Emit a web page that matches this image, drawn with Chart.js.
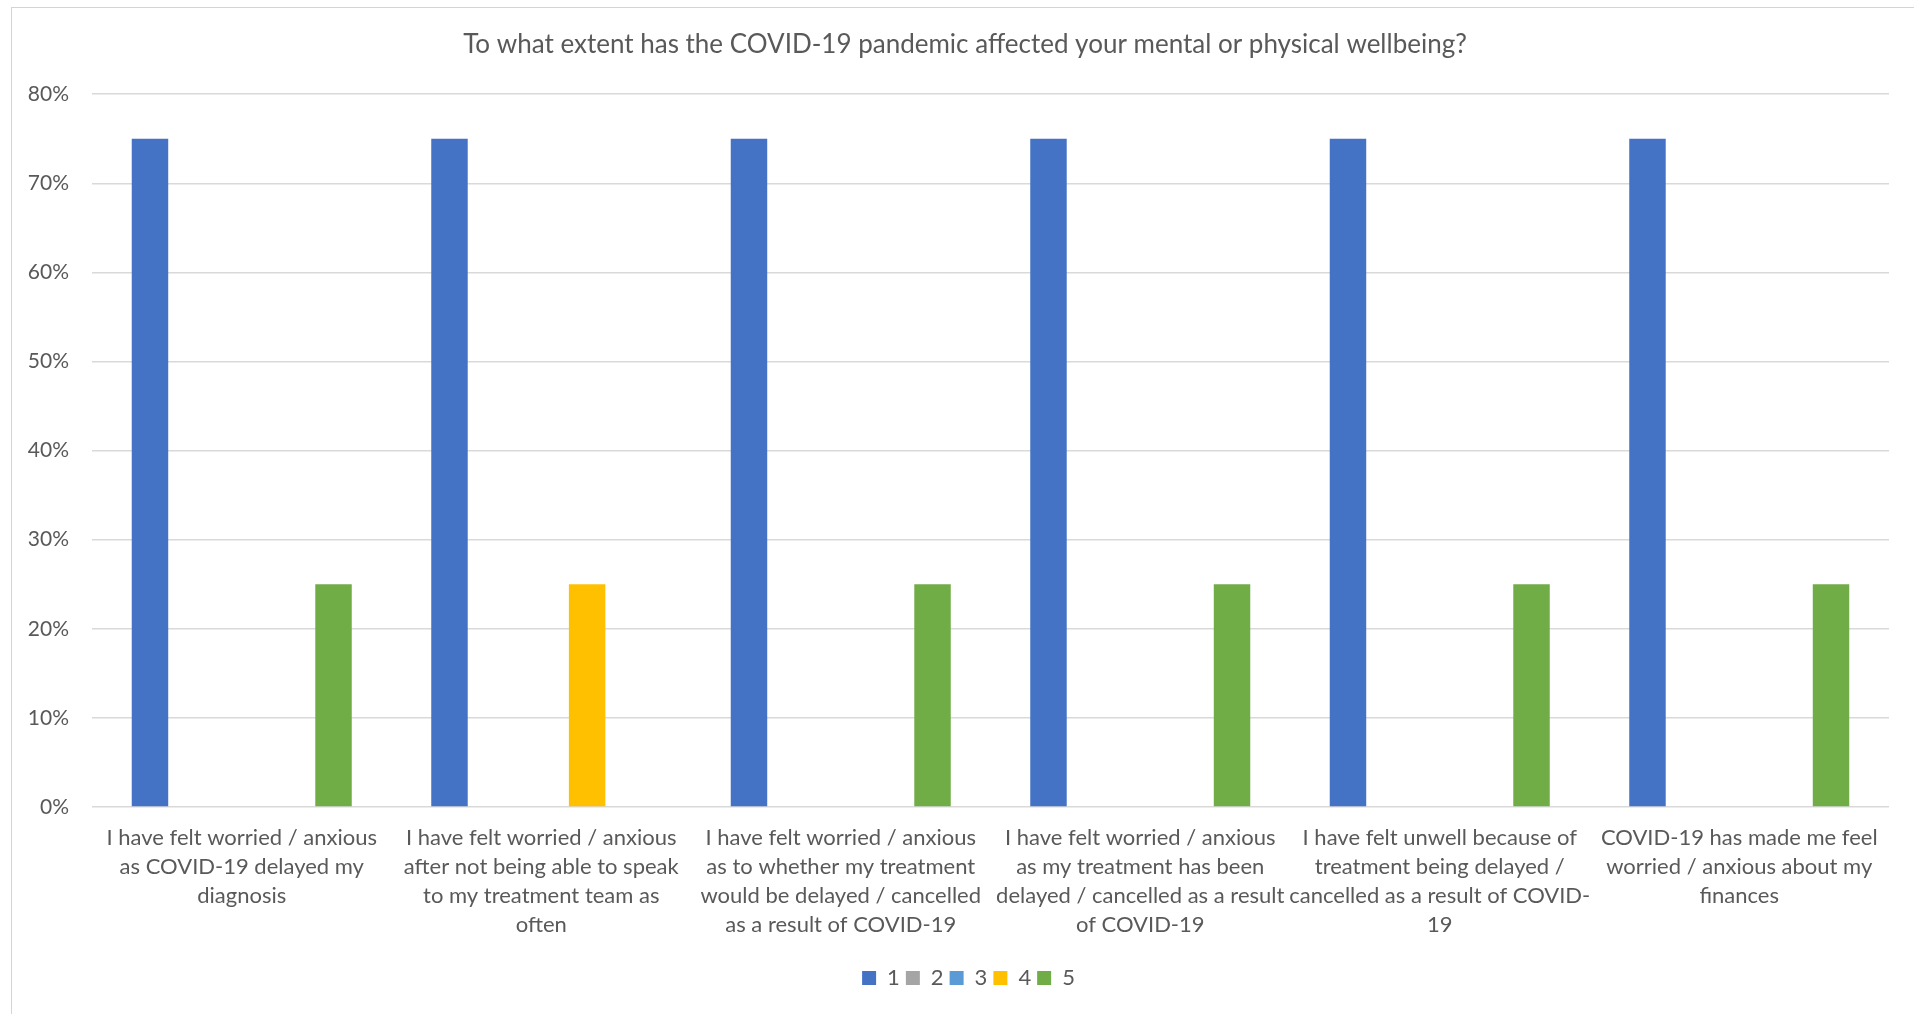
<!DOCTYPE html>
<html>
<head>
<meta charset="utf-8">
<title>COVID-19 wellbeing survey</title>
<script src="https://cdn.jsdelivr.net/npm/chart.js@4.4.1/dist/chart.umd.min.js"></script>
<style>
  html, body { margin: 0; padding: 0; background: #ffffff; overflow: hidden; }
  #wrap { position: relative; width: 1914px; height: 1014px; overflow: hidden; }
  #frame { position: absolute; left: 11px; top: 7px; width: 1980px; height: 1100px;
           border: 1px solid #d4d4d4; box-sizing: border-box; }
  #chart { position: absolute; left: 0; top: 0; }
</style>
</head>
<body>
<div id="wrap">
  <div id="frame"></div>
  <canvas id="chart" width="1914" height="1014"></canvas>
</div>
<script>
// Survey statements (one category per statement, pre-wrapped into lines)
const categories = [
  ["I have felt worried / anxious", "as COVID-19 delayed my", "diagnosis"],
  ["I have felt worried / anxious", "after not being able to speak", "to my treatment team as", "often"],
  ["I have felt worried / anxious", "as to whether my treatment", "would be delayed / cancelled", "as a result of COVID-19"],
  ["I have felt worried / anxious", "as my treatment has been", "delayed / cancelled as a result", "of COVID-19"],
  ["I have felt unwell because of", "treatment being delayed /", "cancelled as a result of COVID-", "19"],
  ["COVID-19 has made me feel", "worried / anxious about my", "finances"]
];

// Rating scale responses, percentage of respondents
const seriesNames = ["1", "2", "3", "4", "5"];
const rating1 = [75, 75, 75, 75, 75, 75];
const rating2 = [0, 0, 0, 0, 0, 0];
const rating3 = [0, 0, 0, 0, 0, 0];
const rating4 = [0, 25, 0, 0, 0, 0];
const rating5 = [25, 0, 25, 25, 25, 25];

// Value axis
const yMin = 0;
const yMax = 80;
const yStep = 10;

const titleText = "To what extent has the COVID-19 pandemic affected your mental or physical wellbeing?";
const seriesColors = ["#4472C4", "#A5A5A5", "#5B9BD5", "#FFC000", "#70AD47"];
const seriesValues = [rating1, rating2, rating3, rating4, rating5];

const textColor = "#595959";
const gridColor = "#d9d9d9";
Chart.defaults.font.family = "Lato, 'Open Sans', sans-serif";
Chart.defaults.color = textColor;

// Centre the title and legend on the outer chart frame rather than the plot
const centreOnFrame = {
  id: "centreOnFrame",
  afterLayout(chart) {
    const spans = [[chart.titleBlock, 1930], [chart.legend, 1937]];
    spans.forEach(([box, right]) => {
      if (!box) return;
      box.left = 0;
      box.right = right;
      box.width = right;
    });
  }
};

const datasets = seriesNames.map((name, i) => ({
  label: name,
  data: seriesValues[i],
  backgroundColor: seriesColors[i],
  borderWidth: 0,
  barPercentage: 0.795,
  categoryPercentage: 0.766
}));

new Chart(document.getElementById("chart"), {
  type: "bar",
  data: { labels: categories, datasets },
  plugins: [centreOnFrame],
  options: {
    responsive: false,
    maintainAspectRatio: false,
    animation: false,
    layout: { padding: { left: 0, right: 25, top: 0, bottom: 15 } },
    plugins: {
      title: {
        display: true,
        text: titleText,
        color: textColor,
        font: { size: 26, weight: "normal", lineHeight: 1.2 },
        padding: { top: 29, bottom: 34 }
      },
      legend: {
        display: true,
        position: "bottom",
        labels: {
          boxWidth: 14,
          boxHeight: 14,
          padding: 6,
          color: textColor,
          font: { size: 22 }
        }
      },
      tooltip: { enabled: false }
    },
    scales: {
      x: {
        grid: { display: false, drawTicks: false },
        border: { display: false },
        ticks: {
          autoSkip: false,
          maxRotation: 0,
          minRotation: 0,
          padding: 16,
          color: textColor,
          font: { size: 22, lineHeight: 1.32 }
        },
        afterFit(scale) { scale.height = 154; }
      },
      y: {
        min: yMin,
        max: yMax,
        grid: { color: gridColor, lineWidth: 1.5, drawTicks: false },
        border: { display: false },
        ticks: {
          stepSize: yStep,
          padding: 23,
          color: textColor,
          font: { size: 21 },
          callback: (v) => v + "%"
        },
        afterFit(scale) { scale.width = 92; }
      }
    }
  }
});
</script>
</body>
</html>
